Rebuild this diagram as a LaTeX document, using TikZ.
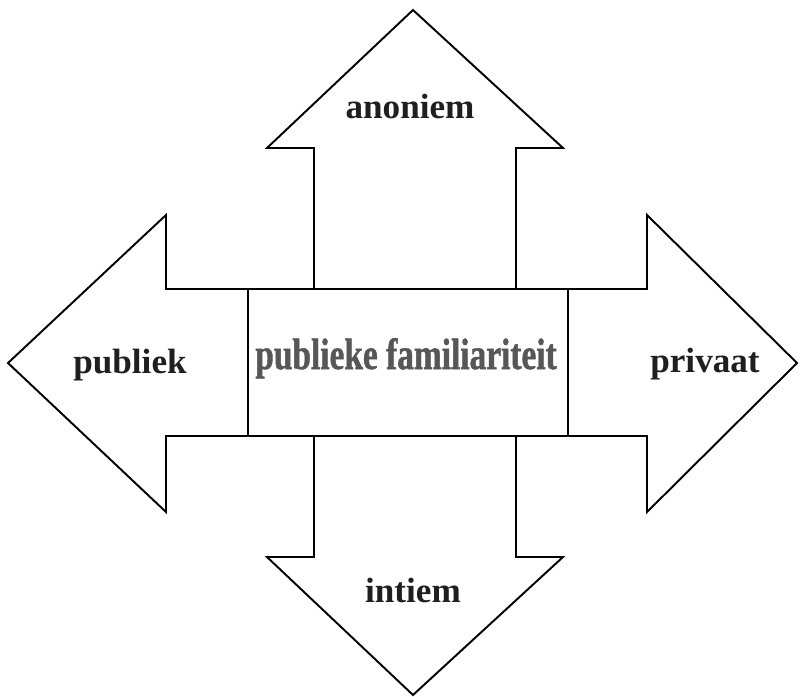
\documentclass[tikz,border=0pt]{standalone}
\usepackage{fontspec}
\setmainfont{Liberation Serif}
\newfontfamily\famfont[FakeBold=1.2]{Liberation Serif Bold}
\usetikzlibrary{positioning, calc}
\tikzset{pijl/.style={draw, line width=1.1pt, line join=miter, fill=white},
         lbl/.style={anchor=base, font=\fontsize{20}{24}\selectfont\bfseries, text=black!88},
         midden/.style={draw, line width=1.1pt, fill=white, minimum width=6.4cm, minimum height=2.94cm, inner sep=0pt}}

\begin{document}
\begin{tikzpicture}[x=0.02cm, y=-0.02cm]
    \useasboundingbox (0,0) rectangle (802,697);

            % the four arrows
            \draw[pijl] (314,289) -- (314,148) -- (267,148) -- (413,10) -- (563,148) -- (516,148) -- (516,289);
            \draw[pijl] (314,436) -- (314,557) -- (267,557) -- (413,695) -- (563,557) -- (516,557) -- (516,436);
            \draw[pijl] (248,289) -- (166,289) -- (166,215) -- (8,363) -- (166,512) -- (166,436) -- (248,436);
            \draw[pijl] (568,289) -- (647,289) -- (647,215) -- (797,363) -- (647,512) -- (647,436) -- (568,436);

            \node[midden] (fam) at (408,362.5) {};
            \node[anchor=base, text=black!66, font=\fontsize{25}{30}\famfont] (famtxt) at (406,369)
                {\scalebox{0.76}[1]{publieke familiariteit}};

            \node[lbl] (anoniem) at (410,118) {anoniem};
            \node[lbl] (intiem) at (413,602) {intiem};
            \node[lbl] (publiek) at (130,373) {publiek};
            \node[lbl] (privaat) at (705,372) {privaat};

\end{tikzpicture}
\end{document}
